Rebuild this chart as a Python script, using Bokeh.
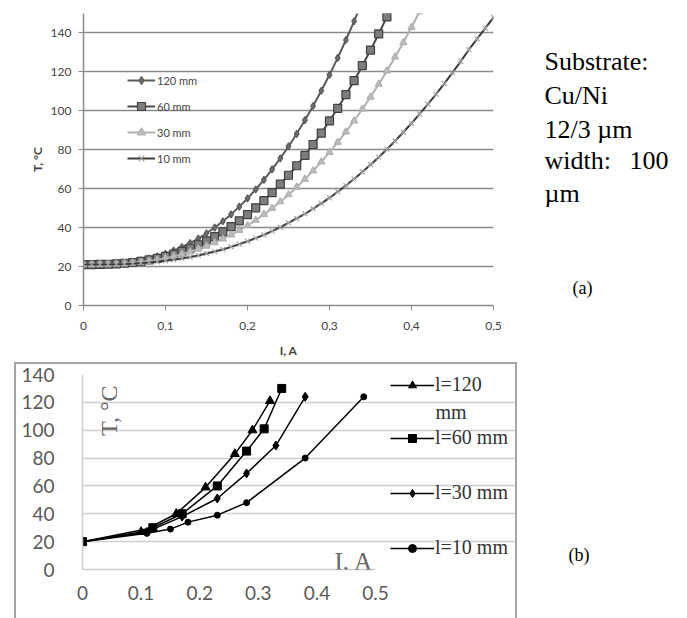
from math import pi
from bokeh.plotting import figure
from bokeh.models import (Range1d, FixedTicker, Legend, LegendItem, Label,
                          CustomJSTickFormatter)
from bokeh.layouts import column, row
from bokeh.embed import file_html
from bokeh.resources import INLINE

# ---------------- data, chart (a) ----------------
a_current = [0.00, 0.01, 0.02, 0.03, 0.04, 0.05, 0.06, 0.07, 0.08, 0.09,
             0.10, 0.11, 0.12, 0.13, 0.14, 0.15, 0.16, 0.17, 0.18, 0.19,
             0.20, 0.21, 0.22, 0.23, 0.24, 0.25, 0.26, 0.27, 0.28, 0.29,
             0.30, 0.31, 0.32, 0.33, 0.34, 0.35, 0.36, 0.37, 0.38, 0.39,
             0.40, 0.41, 0.42, 0.43, 0.44, 0.45, 0.46, 0.47, 0.48, 0.49, 0.50]
a_t120 = [21.0, 21.0, 21.1, 21.2, 21.5, 21.9, 22.5, 23.2, 24.1, 25.3, 26.6, 28.2,
          30.0, 32.1, 34.4, 37.1, 40.0, 43.3, 46.8, 50.8, 55.0, 59.6, 64.5, 69.9,
          75.6, 81.7, 88.2, 95.2, 102.5, 110.3, 118.5, 127.2, 136.4, 146.0, 156.1]
a_t60 = [21.0, 21.0, 21.1, 21.2, 21.4, 21.7, 22.1, 22.7, 23.4, 24.2, 25.2, 26.4,
         27.8, 29.4, 31.2, 33.2, 35.4, 37.8, 40.5, 43.5, 46.7, 50.2, 53.9, 58.0,
         62.3, 66.9, 71.8, 77.1, 82.7, 88.6, 94.8, 101.3, 108.3, 115.5, 123.2,
         131.2, 139.5, 148.3, 157.4]
a_t30 = [21.0, 21.0, 21.1, 21.1, 21.3, 21.5, 21.9, 22.3, 22.9, 23.5, 24.3, 25.2,
         26.3, 27.6, 29.0, 30.5, 32.3, 34.2, 36.3, 38.6, 41.1, 43.8, 46.8, 49.9,
         53.3, 56.9, 60.8, 64.9, 69.2, 73.8, 78.7, 83.8, 89.2, 94.9, 100.9, 107.1,
         113.7, 120.5, 127.7, 135.1, 142.9, 151.0]
a_t10 = [21.0, 21.0, 21.0, 21.1, 21.2, 21.3, 21.5, 21.8, 22.1, 22.5, 23.0, 23.5,
         24.2, 24.9, 25.7, 26.7, 27.7, 28.8, 30.1, 31.5, 33.0, 34.6, 36.3, 38.2,
         40.2, 42.4, 44.7, 47.1, 49.7, 52.5, 55.3, 58.4, 61.6, 65.0, 68.6, 72.3,
         76.2, 80.3, 84.5, 89.0, 93.6, 98.4, 103.4, 108.6, 114.0, 119.6, 125.4,
         131.4, 137.0, 142.5, 148.0]
a_names = ["120 mm", "60 mm", "30 mm", "10 mm"]
a_xticks = [0, 0.1, 0.2, 0.3, 0.4, 0.5]
a_yticks = [0, 20, 40, 60, 80, 100, 120, 140]
a_note = ["Substrate:", "Cu/Ni", "12/3 \u00b5m", "width:", "100", "\u00b5m"]

# ---------------- data, chart (b) ----------------
b_i120 = [0, 0.10, 0.16, 0.21, 0.26, 0.29, 0.32]
b_t120 = [20, 27, 40, 59, 83, 100, 121]
b_i60 = [0, 0.12, 0.17, 0.23, 0.28, 0.31, 0.34]
b_t60 = [20, 30, 40, 60, 85, 101, 130]
b_i30 = [0, 0.11, 0.17, 0.23, 0.28, 0.33, 0.38]
b_t30 = [20, 27, 38, 51, 69, 89, 124]
b_i10 = [0, 0.11, 0.15, 0.18, 0.23, 0.28, 0.38, 0.48]
b_t10 = [20, 26, 29, 34, 39, 48, 80, 124]
b_names = ["l=120", "l=60 mm", "l=30 mm", "l=10 mm"]
b_xticks = [0, 0.1, 0.2, 0.3, 0.4, 0.5]
b_yticks = [0, 20, 40, 60, 80, 100, 120, 140]

BOX = "2px solid #a6a6a6"


def panel(width, height, x0, x1, y0, y1, **kw):
    """blank figure whose frame covers it, ranges in page pixels"""
    f = figure(width=width, height=height, x_range=Range1d(x0, x1),
               y_range=Range1d(y0, y1), output_backend="svg", toolbar_location=None,
               x_axis_location=None, y_axis_location=None,
               min_border_left=0, min_border_right=0, min_border_top=0,
               min_border_bottom=0, frame_align=False, **kw)
    f.grid.grid_line_color = None
    f.outline_line_color = None
    return f


# ================= chart (a) =================
p1 = figure(width=505, height=360, x_range=Range1d(0, 0.5), y_range=Range1d(0, 150),
            output_backend="svg", toolbar_location=None,
            min_border_left=83, min_border_right=12, min_border_top=13,
            min_border_bottom=52, frame_align=False)
p1.outline_line_color = None
p1.xgrid.grid_line_color = None
p1.ygrid.ticker = FixedTicker(ticks=a_yticks)
p1.ygrid.grid_line_color = "#8a8a8a"
p1.ygrid.grid_line_width = 1.5
for ax in (p1.xaxis[0], p1.yaxis[0]):
    ax.axis_line_color = "#8a8a8a"
    ax.axis_line_width = 1.5
    ax.major_tick_line_color = "#8a8a8a"
    ax.major_tick_out = 5
    ax.major_tick_in = 0
    ax.minor_tick_line_color = None
    ax.major_label_text_font = "Lato"
    ax.major_label_text_font_size = "12px"
    ax.major_label_text_color = "#444444"
    ax.axis_label_text_font = "Lato"
    ax.axis_label_text_font_size = "12px"
    ax.axis_label_text_font_style = "bold"
    ax.axis_label_text_color = "#444444"
p1.xaxis.ticker = FixedTicker(ticks=a_xticks)
p1.xaxis.formatter = CustomJSTickFormatter(
    code='return tick == 0 ? "0" : tick.toFixed(1).replace(".", ",");')
p1.xaxis.major_label_standoff = 11
p1.xaxis.axis_label = "I, A"
p1.xaxis.axis_label_standoff = 10
p1.yaxis.ticker = FixedTicker(ticks=a_yticks)
p1.yaxis.major_label_standoff = 7
p1.yaxis.axis_label = "T, °C"
p1.yaxis.axis_label_standoff = 3

styles_a = [
    dict(line="#5a5a5a", marker="diamond", size=7, fill="#6e6e6e", edge="#5a5a5a"),
    dict(line="#474747", marker="square", size=8, fill="#7d7d7d", edge="#404040"),
    dict(line="#b0b0b0", marker="triangle", size=7, fill="#bdbdbd", edge="#b0b0b0"),
    dict(line="#3a3a3a", marker="x", size=7, fill="#a3a3a3", edge="#a3a3a3"),
]
a_series = [a_t120, a_t60, a_t30, a_t10]
items_a = []
for name, ts, st in zip(a_names, a_series, styles_a):
    xs = a_current[:len(ts)]
    ln = p1.line(xs, ts, line_color=st["line"], line_width=2)
    sc = p1.scatter(xs, ts, marker=st["marker"], size=st["size"],
                    fill_color=st["fill"], line_color=st["edge"], line_width=1.2)
    items_a.append(LegendItem(label=name, renderers=[ln, sc]))

leg_a = Legend(items=items_a, location=(44, 137), orientation="vertical",
               glyph_width=28, glyph_height=20, label_height=20, spacing=6,
               padding=0, margin=0, label_standoff=2,
               border_line_color=None, background_fill_alpha=0,
               label_text_font="Lato", label_text_font_size="11px",
               label_text_color="#444444")
p1.add_layout(leg_a)

# note beside chart (a)
t1 = panel(182, 360, 505, 687, 360, 0)
note_pos = [(544, 61), (544, 95), (544, 129), (544, 160), (629, 160), (544, 193)]
for txt, (x, y) in zip(a_note, note_pos):
    t1.add_layout(Label(x=x, y=y, text=txt, text_font="Liberation Serif",
                        text_font_size="26px", text_color="#000000",
                        text_baseline="alphabetic", text_align="left"))
t1.add_layout(Label(x=572, y=287, text="(a)", text_font="Liberation Serif",
                    text_font_size="18px", text_color="#000000",
                    text_baseline="alphabetic", text_align="left"))

# ================= chart (b) =================
# frame runs on under the legend; grid and axis bounded to 0..0.5
p2 = figure(width=503, height=256, x_range=Range1d(0, 0.7457), y_range=Range1d(0, 140),
            output_backend="svg", toolbar_location=None,
            min_border_left=66, min_border_right=0, min_border_top=10,
            min_border_bottom=51, margin=(2, 0, 0, 14), frame_align=False)
p2.styles = {"border-left": BOX, "border-top": BOX, "border-right": BOX,
             "box-sizing": "border-box"}
p2.outline_line_color = None
p2.xgrid.grid_line_color = None
p2.ygrid.ticker = FixedTicker(ticks=b_yticks)
p2.ygrid.grid_line_color = "#cfcfcf"
p2.ygrid.grid_line_width = 1.5
p2.ygrid.bounds = (0, 0.5)
for ax in (p2.xaxis[0], p2.yaxis[0]):
    ax.axis_line_color = "#cfcfcf"
    ax.axis_line_width = 1.5
    ax.major_tick_line_color = None
    ax.minor_tick_line_color = None
    ax.major_label_text_font = "Lato"
    ax.major_label_text_font_size = "19px"
    ax.major_label_text_color = "#595959"
p2.xaxis.bounds = (0, 0.5)
p2.xaxis.ticker = FixedTicker(ticks=b_xticks)
p2.xaxis.formatter = CustomJSTickFormatter(
    code='return tick == 0 ? "0" : tick.toFixed(1);')
p2.xaxis.major_label_standoff = 10
p2.yaxis.ticker = FixedTicker(ticks=b_yticks)
p2.yaxis.major_label_standoff = 22

b_series = [(b_i120, b_t120, "triangle", 9), (b_i60, b_t60, "square", 8),
            (b_i30, b_t30, "diamond", 9), (b_i10, b_t10, "circle", 6)]
legend_y = [173, 120, 65, 10]
for name, (xs, ts, mk, sz), ly in zip(b_names, b_series, legend_y):
    ln = p2.line(xs, ts, line_color="#000000", line_width=1.5)
    sc = p2.scatter(xs, ts, marker=mk, size=sz, fill_color="#000000",
                    line_color="#000000")
    lg = Legend(items=[LegendItem(label=name, renderers=[ln, sc])],
                location=(308, ly), glyph_width=44, glyph_height=20,
                label_height=20, padding=0, margin=0, label_standoff=1,
                border_line_color=None, background_fill_alpha=0,
                label_text_font="Liberation Serif", label_text_font_size="20px",
                label_text_color="#333333")
    p2.add_layout(lg)
p2.add_layout(Label(x=0.6024, y=113.4, text="mm", text_font="Liberation Serif",
                    text_font_size="20px", text_color="#333333",
                    text_baseline="middle", text_align="left"))
p2.add_layout(Label(x=0.0444, y=114, text="T, \u00b0C", angle=pi / 2,
                    text_font="Liberation Serif", text_font_size="24px",
                    text_color="#666666", text_baseline="middle",
                    text_align="center"))
p2.add_layout(Label(x=0.430, y=6.0, text="I, A", text_font="Liberation Serif",
                    text_font_size="25px", text_color="#666666",
                    text_baseline="alphabetic", text_align="left"))

# "(b)" beside chart (b)
t2 = panel(170, 256, 517, 687, 618, 362, margin=(2, 0, 0, 0))
t2.add_layout(Label(x=568, y=554, text="(b)", text_font="Liberation Serif",
                    text_font_size="18px", text_color="#000000",
                    text_baseline="alphabetic", text_align="left"))

layout = column(row(p1, t1), row(p2, t2))
open("out.html", "w").write(file_html(layout, INLINE))
